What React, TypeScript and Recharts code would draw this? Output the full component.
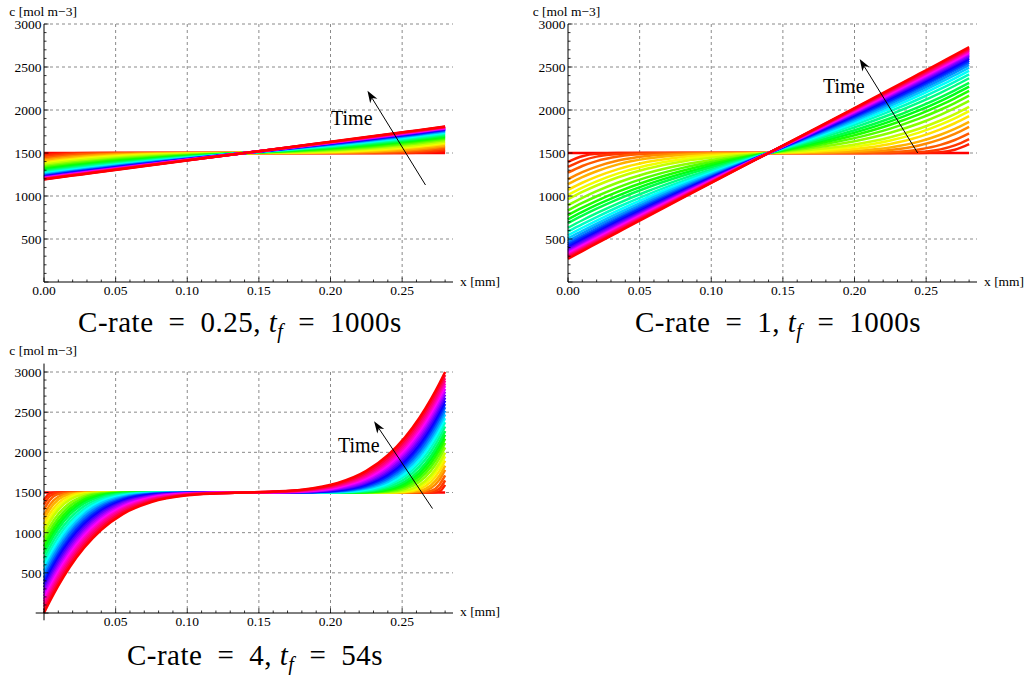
import React from 'react';
import { LineChart, Line, XAxis, YAxis, CartesianGrid, ReferenceLine } from 'recharts';

const FONT = '"Liberation Serif", "Times New Roman", serif';

// time of each curve as a fraction of t_f (t = 0 first, t = t_f last)
const curveTimes = [0, 0.004, 0.01, 0.02, 0.035, 0.05, 0.07, 0.09, 0.11, 0.14, 0.17, 0.2, 0.23, 0.26, 0.3, 0.34, 0.38, 0.42, 0.46, 0.5, 0.54, 0.58, 0.62, 0.66, 0.7, 0.74, 0.78, 0.82, 0.86, 0.9, 0.95, 1];

// x positions [mm] of the sampled profiles
const xGridAB = [0, 0.01, 0.02, 0.035, 0.055, 0.08, 0.11, 0.14, 0.17, 0.2, 0.225, 0.245, 0.26, 0.27, 0.28];
const xGridC = [0, 0.004, 0.01, 0.018, 0.028, 0.04, 0.055, 0.075, 0.1, 0.12, 0.14, 0.16, 0.18, 0.205, 0.225, 0.24, 0.252, 0.262, 0.27, 0.276, 0.28];

// C-rate = 0.25, t_f = 1000s
const profilesA = [
  [1500, 1500, 1500, 1500, 1500, 1500, 1500, 1500, 1500, 1500, 1500, 1500, 1500, 1500, 1500],
  [1475, 1491, 1498, 1500, 1500, 1500, 1500, 1500, 1500, 1500, 1500, 1500, 1502, 1509, 1525],
  [1460, 1478, 1490, 1497, 1500, 1500, 1500, 1500, 1500, 1500, 1500, 1503, 1510, 1522, 1540],
  [1443, 1462, 1477, 1490, 1498, 1500, 1500, 1500, 1500, 1500, 1502, 1510, 1523, 1538, 1557],
  [1424, 1445, 1461, 1478, 1491, 1498, 1500, 1500, 1500, 1502, 1509, 1522, 1539, 1555, 1576],
  [1410, 1430, 1447, 1467, 1484, 1494, 1499, 1500, 1501, 1506, 1516, 1533, 1553, 1570, 1590],
  [1393, 1414, 1431, 1453, 1474, 1489, 1496, 1500, 1504, 1511, 1526, 1547, 1569, 1586, 1607],
  [1379, 1400, 1418, 1441, 1464, 1482, 1494, 1500, 1506, 1518, 1536, 1559, 1582, 1600, 1621],
  [1366, 1387, 1406, 1430, 1454, 1476, 1491, 1500, 1509, 1524, 1546, 1570, 1594, 1613, 1634],
  [1349, 1370, 1389, 1414, 1441, 1466, 1486, 1500, 1514, 1534, 1559, 1586, 1611, 1630, 1651],
  [1333, 1355, 1374, 1400, 1429, 1457, 1481, 1500, 1519, 1543, 1571, 1600, 1626, 1645, 1667],
  [1320, 1341, 1361, 1388, 1418, 1449, 1477, 1500, 1523, 1551, 1582, 1612, 1639, 1659, 1680],
  [1307, 1329, 1349, 1376, 1408, 1441, 1473, 1500, 1527, 1559, 1592, 1624, 1651, 1671, 1693],
  [1296, 1318, 1338, 1366, 1399, 1434, 1469, 1500, 1531, 1566, 1601, 1634, 1662, 1682, 1704],
  [1283, 1305, 1325, 1354, 1388, 1426, 1465, 1500, 1535, 1574, 1612, 1646, 1675, 1695, 1717],
  [1271, 1293, 1314, 1343, 1379, 1418, 1461, 1500, 1539, 1582, 1621, 1657, 1686, 1707, 1729],
  [1261, 1283, 1304, 1334, 1370, 1412, 1457, 1500, 1543, 1588, 1630, 1666, 1696, 1717, 1739],
  [1252, 1274, 1295, 1325, 1363, 1406, 1454, 1500, 1546, 1594, 1637, 1675, 1705, 1726, 1748],
  [1244, 1266, 1288, 1318, 1357, 1402, 1452, 1500, 1548, 1598, 1643, 1682, 1712, 1734, 1756],
  [1237, 1259, 1281, 1312, 1351, 1397, 1450, 1500, 1550, 1603, 1649, 1688, 1719, 1741, 1763],
  [1231, 1253, 1275, 1306, 1346, 1393, 1448, 1500, 1552, 1607, 1654, 1694, 1725, 1747, 1769],
  [1226, 1248, 1270, 1301, 1342, 1390, 1446, 1500, 1554, 1610, 1658, 1699, 1730, 1752, 1774],
  [1221, 1243, 1265, 1297, 1338, 1387, 1444, 1500, 1556, 1613, 1662, 1703, 1735, 1757, 1779],
  [1217, 1239, 1261, 1293, 1334, 1385, 1443, 1500, 1557, 1615, 1666, 1707, 1739, 1761, 1783],
  [1214, 1236, 1258, 1290, 1332, 1382, 1442, 1500, 1558, 1618, 1668, 1710, 1742, 1764, 1786],
  [1210, 1233, 1254, 1287, 1329, 1380, 1441, 1500, 1559, 1620, 1671, 1713, 1746, 1767, 1790],
  [1208, 1230, 1252, 1284, 1327, 1379, 1440, 1500, 1560, 1621, 1673, 1716, 1748, 1770, 1792],
  [1204, 1227, 1249, 1281, 1324, 1377, 1439, 1500, 1561, 1623, 1676, 1719, 1751, 1773, 1796],
  [1202, 1224, 1246, 1279, 1322, 1375, 1438, 1500, 1562, 1625, 1678, 1721, 1754, 1776, 1798],
  [1199, 1221, 1243, 1276, 1320, 1373, 1437, 1500, 1563, 1627, 1680, 1724, 1757, 1779, 1801],
  [1196, 1218, 1240, 1273, 1317, 1371, 1436, 1500, 1564, 1629, 1683, 1727, 1760, 1782, 1804],
  [1193, 1215, 1237, 1270, 1315, 1369, 1435, 1500, 1565, 1631, 1685, 1730, 1763, 1785, 1807],
];

// C-rate = 1, t_f = 1000s
const profilesB = [
  [1500, 1500, 1500, 1500, 1500, 1500, 1500, 1500, 1500, 1500, 1500, 1500, 1500, 1500, 1500],
  [1398, 1463, 1490, 1499, 1500, 1500, 1500, 1500, 1500, 1500, 1500, 1501, 1510, 1537, 1602],
  [1338, 1412, 1458, 1489, 1499, 1500, 1500, 1500, 1500, 1500, 1501, 1511, 1542, 1588, 1662],
  [1271, 1349, 1406, 1459, 1490, 1499, 1500, 1500, 1500, 1501, 1510, 1541, 1594, 1651, 1729],
  [1197, 1278, 1342, 1412, 1465, 1491, 1499, 1500, 1501, 1509, 1535, 1588, 1658, 1722, 1803],
  [1138, 1220, 1288, 1368, 1435, 1477, 1495, 1500, 1505, 1523, 1565, 1632, 1712, 1780, 1862],
  [1071, 1154, 1225, 1313, 1395, 1454, 1485, 1500, 1515, 1546, 1605, 1687, 1775, 1846, 1929],
  [1014, 1098, 1171, 1263, 1355, 1428, 1475, 1500, 1525, 1572, 1645, 1737, 1829, 1902, 1986],
  [963, 1047, 1122, 1218, 1317, 1402, 1462, 1500, 1538, 1598, 1683, 1782, 1878, 1953, 2037],
  [894, 979, 1056, 1157, 1264, 1363, 1443, 1500, 1557, 1637, 1736, 1843, 1944, 2021, 2106],
  [833, 919, 997, 1101, 1216, 1327, 1424, 1500, 1576, 1673, 1784, 1899, 2003, 2081, 2167],
  [778, 864, 944, 1051, 1172, 1294, 1407, 1500, 1593, 1706, 1828, 1949, 2056, 2136, 2222],
  [729, 815, 896, 1005, 1132, 1263, 1390, 1500, 1610, 1737, 1868, 1995, 2104, 2185, 2271],
  [685, 771, 852, 964, 1096, 1235, 1376, 1500, 1624, 1765, 1904, 2036, 2148, 2229, 2315],
  [631, 718, 800, 915, 1052, 1202, 1358, 1500, 1642, 1798, 1948, 2085, 2200, 2282, 2369],
  [585, 672, 755, 872, 1014, 1173, 1343, 1500, 1657, 1827, 1986, 2128, 2245, 2328, 2415],
  [544, 631, 715, 834, 981, 1148, 1329, 1500, 1671, 1852, 2019, 2166, 2285, 2369, 2456],
  [508, 596, 680, 801, 952, 1125, 1317, 1500, 1683, 1875, 2048, 2199, 2320, 2404, 2492],
  [477, 565, 650, 772, 926, 1106, 1307, 1500, 1693, 1894, 2074, 2228, 2350, 2435, 2523],
  [449, 537, 622, 746, 903, 1088, 1298, 1500, 1702, 1912, 2097, 2254, 2378, 2463, 2551],
  [425, 513, 599, 724, 884, 1073, 1290, 1500, 1710, 1927, 2116, 2276, 2401, 2487, 2575],
  [403, 492, 578, 704, 866, 1060, 1283, 1500, 1717, 1940, 2134, 2296, 2422, 2508, 2597],
  [385, 473, 560, 687, 851, 1048, 1277, 1500, 1723, 1952, 2149, 2313, 2440, 2527, 2615],
  [368, 457, 544, 672, 837, 1038, 1271, 1500, 1729, 1962, 2163, 2328, 2456, 2543, 2632],
  [354, 442, 530, 658, 826, 1029, 1266, 1500, 1734, 1971, 2174, 2342, 2470, 2558, 2646],
  [341, 430, 517, 647, 815, 1021, 1262, 1500, 1738, 1979, 2185, 2353, 2483, 2570, 2659],
  [330, 419, 506, 636, 806, 1014, 1259, 1500, 1741, 1986, 2194, 2364, 2494, 2581, 2670],
  [317, 406, 494, 624, 796, 1006, 1254, 1500, 1746, 1994, 2204, 2376, 2506, 2594, 2683],
  [306, 395, 483, 614, 787, 999, 1251, 1500, 1749, 2001, 2213, 2386, 2517, 2605, 2694],
  [296, 385, 473, 605, 778, 993, 1247, 1500, 1753, 2007, 2222, 2395, 2527, 2615, 2704],
  [283, 373, 461, 593, 768, 985, 1243, 1500, 1757, 2015, 2232, 2407, 2539, 2627, 2717],
  [270, 360, 448, 581, 758, 977, 1239, 1500, 1761, 2023, 2242, 2419, 2552, 2640, 2730],
];

// C-rate = 4, t_f = 54s
const profilesC = [
  [1500, 1500, 1500, 1500, 1500, 1500, 1500, 1500, 1500, 1500, 1500, 1500, 1500, 1500, 1500, 1500, 1500, 1500, 1500, 1500, 1500],
  [1405, 1488, 1500, 1500, 1500, 1500, 1500, 1500, 1500, 1500, 1500, 1500, 1500, 1500, 1500, 1500, 1500, 1500, 1500, 1512, 1595],
  [1350, 1454, 1497, 1500, 1500, 1500, 1500, 1500, 1500, 1500, 1500, 1500, 1500, 1500, 1500, 1500, 1500, 1500, 1503, 1546, 1650],
  [1288, 1404, 1480, 1499, 1500, 1500, 1500, 1500, 1500, 1500, 1500, 1500, 1500, 1500, 1500, 1500, 1500, 1501, 1520, 1596, 1712],
  [1219, 1343, 1447, 1492, 1500, 1500, 1500, 1500, 1500, 1500, 1500, 1500, 1500, 1500, 1500, 1500, 1500, 1508, 1553, 1657, 1781],
  [1165, 1292, 1412, 1479, 1498, 1500, 1500, 1500, 1500, 1500, 1500, 1500, 1500, 1500, 1500, 1500, 1502, 1521, 1588, 1708, 1835],
  [1103, 1233, 1368, 1458, 1493, 1500, 1500, 1500, 1500, 1500, 1500, 1500, 1500, 1500, 1500, 1500, 1507, 1542, 1632, 1767, 1897],
  [1050, 1182, 1326, 1434, 1485, 1498, 1500, 1500, 1500, 1500, 1500, 1500, 1500, 1500, 1500, 1502, 1515, 1566, 1674, 1818, 1950],
  [1003, 1136, 1287, 1409, 1475, 1496, 1500, 1500, 1500, 1500, 1500, 1500, 1500, 1500, 1500, 1504, 1525, 1591, 1713, 1864, 1997],
  [939, 1074, 1232, 1370, 1455, 1491, 1499, 1500, 1500, 1500, 1500, 1500, 1500, 1500, 1501, 1509, 1545, 1630, 1768, 1926, 2061],
  [882, 1018, 1182, 1332, 1434, 1483, 1498, 1500, 1500, 1500, 1500, 1500, 1500, 1500, 1502, 1517, 1566, 1668, 1818, 1982, 2118],
  [829, 966, 1135, 1294, 1411, 1473, 1496, 1500, 1500, 1500, 1500, 1500, 1500, 1500, 1504, 1527, 1589, 1706, 1865, 2034, 2171],
  [781, 918, 1090, 1258, 1387, 1461, 1493, 1500, 1500, 1500, 1500, 1500, 1500, 1500, 1507, 1539, 1613, 1742, 1910, 2082, 2219],
  [735, 874, 1048, 1223, 1363, 1449, 1488, 1499, 1500, 1500, 1500, 1500, 1500, 1501, 1512, 1551, 1637, 1777, 1952, 2126, 2265],
  [678, 818, 995, 1177, 1330, 1430, 1481, 1498, 1500, 1500, 1500, 1500, 1500, 1502, 1519, 1570, 1670, 1823, 2005, 2182, 2322],
  [625, 765, 945, 1134, 1296, 1410, 1473, 1496, 1500, 1500, 1500, 1500, 1500, 1504, 1527, 1590, 1704, 1866, 2055, 2235, 2375],
  [575, 715, 898, 1092, 1264, 1389, 1462, 1494, 1500, 1500, 1500, 1500, 1500, 1506, 1538, 1611, 1736, 1908, 2102, 2285, 2425],
  [528, 668, 852, 1051, 1231, 1367, 1451, 1490, 1499, 1500, 1500, 1500, 1501, 1510, 1549, 1633, 1769, 1949, 2148, 2332, 2472],
  [483, 623, 809, 1012, 1199, 1344, 1439, 1486, 1499, 1500, 1500, 1500, 1501, 1514, 1561, 1656, 1801, 1988, 2191, 2377, 2517],
  [439, 580, 768, 978, 1168, 1321, 1426, 1482, 1498, 1500, 1500, 1500, 1502, 1518, 1574, 1679, 1832, 2022, 2232, 2420, 2561],
  [398, 538, 727, 937, 1136, 1298, 1413, 1477, 1497, 1499, 1500, 1501, 1503, 1523, 1587, 1702, 1864, 2063, 2273, 2462, 2602],
  [358, 499, 689, 901, 1106, 1275, 1399, 1471, 1495, 1499, 1500, 1501, 1505, 1529, 1601, 1725, 1894, 2099, 2311, 2501, 2642],
  [319, 460, 651, 866, 1076, 1252, 1384, 1464, 1494, 1499, 1500, 1501, 1506, 1536, 1616, 1748, 1924, 2134, 2349, 2540, 2681],
  [281, 423, 615, 832, 1046, 1229, 1369, 1458, 1492, 1498, 1500, 1502, 1508, 1542, 1631, 1771, 1954, 2168, 2385, 2577, 2719],
  [245, 387, 579, 799, 1017, 1206, 1354, 1450, 1490, 1498, 1500, 1502, 1510, 1550, 1646, 1794, 1983, 2201, 2421, 2613, 2755],
  [210, 351, 545, 766, 988, 1183, 1338, 1442, 1488, 1497, 1500, 1503, 1512, 1558, 1662, 1817, 2012, 2234, 2455, 2649, 2790],
  [175, 317, 512, 735, 960, 1160, 1322, 1434, 1485, 1496, 1500, 1504, 1515, 1566, 1678, 1840, 2040, 2265, 2488, 2683, 2825],
  [142, 284, 479, 703, 932, 1137, 1306, 1425, 1482, 1495, 1500, 1505, 1518, 1575, 1694, 1863, 2068, 2297, 2521, 2716, 2858],
  [109, 251, 447, 673, 905, 1115, 1289, 1416, 1479, 1494, 1500, 1506, 1521, 1584, 1711, 1885, 2095, 2327, 2553, 2749, 2891],
  [77, 219, 416, 643, 878, 1092, 1273, 1407, 1475, 1492, 1500, 1508, 1525, 1593, 1727, 1908, 2122, 2357, 2584, 2781, 2923],
  [38, 181, 377, 607, 845, 1064, 1252, 1394, 1470, 1491, 1500, 1509, 1530, 1606, 1748, 1936, 2155, 2393, 2623, 2819, 2962],
  [0, 143, 340, 572, 812, 1036, 1231, 1382, 1465, 1488, 1500, 1512, 1535, 1618, 1769, 1964, 2188, 2428, 2660, 2857, 3000],
];

// axis ticks (majors every 0.05 / 500, minors every 0.01 / 100)
const xTicks = [0, 0.01, 0.02, 0.03, 0.04, 0.05, 0.06, 0.07, 0.08, 0.09, 0.1, 0.11, 0.12, 0.13, 0.14, 0.15, 0.16, 0.17, 0.18, 0.19, 0.2, 0.21, 0.22, 0.23, 0.24, 0.25, 0.26, 0.27, 0.28];
const yTicks = [0, 100, 200, 300, 400, 500, 600, 700, 800, 900, 1000, 1100, 1200, 1300, 1400, 1500, 1600, 1700, 1800, 1900, 2000, 2100, 2200, 2300, 2400, 2500, 2600, 2700, 2800, 2900, 3000];
const xGridValues = [0.05, 0.1, 0.15, 0.2, 0.25];
const yGridValues = [500, 1000, 1500, 2000, 2500, 3000];

// "Time" arrows: [tail, head] in data units
const arrowA = [{ x: 0.2663, y: 1128 }, { x: 0.2258, y: 2224 }];
const arrowB = [{ x: 0.2441, y: 1500 }, { x: 0.2036, y: 2593 }];
const arrowC = [{ x: 0.2712, y: 1300 }, { x: 0.2304, y: 2387 }];

const X_DOMAIN: [number, number] = [0, 0.2855];
const Y_DOMAIN: [number, number] = [0, 3000];

function hueColor(r: number) {
  return `hsl(${(Math.pow(r, 0.72) * 360).toFixed(1)}, 100%, 50%)`;
}

function buildRows(xs: number[], curves: number[][]) {
  return xs.map((x, i) => {
    const row: Record<string, number> = { x };
    curves.forEach((c, j) => {
      row['c' + j] = c[i];
    });
    return row;
  });
}

const XTick = (props: any) => {
  const { x, y, payload, hideZero } = props;
  const v = payload.value as number;
  const k = Math.round(v * 100);
  const major = k % 5 === 0;
  return (
    <g>
      <line x1={x} x2={x} y1={y} y2={y - (major ? 4.5 : 2.5)} stroke="#000" strokeWidth={0.8} />
      {major && !(hideZero && k === 0) ? (
        <text x={x} y={y + 13} textAnchor="middle" fontSize={13.5} fontFamily={FONT} fill="#000">
          {v.toFixed(2)}
        </text>
      ) : null}
    </g>
  );
};

const YTick = (props: any) => {
  const { x, y, payload } = props;
  const v = payload.value as number;
  const major = v % 500 === 0;
  return (
    <g>
      <line x1={x} x2={x + (major ? 4.5 : 2.5)} y1={y} y2={y} stroke="#000" strokeWidth={0.8} />
      {major && v > 0 ? (
        <text x={x - 2.5} y={y} dy="0.36em" textAnchor="end" fontSize={13.5} fontFamily={FONT} fill="#000">
          {v}
        </text>
      ) : null}
    </g>
  );
};

const ArrowShape = (props: any) => {
  const { x1, y1, x2, y2 } = props;
  const dx = x2 - x1;
  const dy = y2 - y1;
  const len = Math.sqrt(dx * dx + dy * dy) || 1;
  const ux = dx / len;
  const uy = dy / len;
  const nx = -uy;
  const ny = ux;
  const L = 12;
  const W = 4.2;
  const bx = x2 - ux * L;
  const by = y2 - uy * L;
  const mx = x2 - ux * L * 0.72;
  const my = y2 - uy * L * 0.72;
  const pts = `${x2},${y2} ${bx + nx * W},${by + ny * W} ${mx},${my} ${bx - nx * W},${by - ny * W}`;
  return (
    <g>
      <line x1={x1} y1={y1} x2={mx} y2={my} stroke="#000" strokeWidth={1} />
      <polygon points={pts} fill="#000" />
    </g>
  );
};

type PanelProps = {
  left: number;
  top: number;
  width: number;
  height: number;
  margin: { top: number; right: number; bottom: number; left: number };
  yAxisWidth: number;
  xAxisHeight: number;
  xs: number[];
  curves: number[][];
  arrow: { x: number; y: number }[];
  hideZero?: boolean;
  extendAxes?: boolean;
};

function Panel({ left, top, width, height, margin, yAxisWidth, xAxisHeight, xs, curves, arrow, hideZero, extendAxes }: PanelProps) {
  const rows = buildRows(xs, curves);
  return (
    <div style={{ position: 'absolute', left, top }}>
      <LineChart width={width} height={height} data={rows} margin={margin}>
        <CartesianGrid
          horizontalValues={yGridValues}
          verticalValues={xGridValues}
          stroke="#8a8a8a"
          strokeDasharray="3 3"
          fill="none"
        />
        <XAxis
          type="number"
          dataKey="x"
          domain={X_DOMAIN}
          ticks={xTicks}
          interval={0}
          height={xAxisHeight}
          tickSize={0}
          tickMargin={0}
          tickLine={false}
          axisLine={{ stroke: '#000', strokeWidth: 1 }}
          tick={(p: any) => <XTick {...p} hideZero={hideZero} />}
        />
        <YAxis
          type="number"
          domain={Y_DOMAIN}
          ticks={yTicks}
          interval={0}
          width={yAxisWidth}
          tickSize={0}
          tickMargin={0}
          tickLine={false}
          axisLine={{ stroke: '#000', strokeWidth: 1 }}
          tick={(p: any) => <YTick {...p} />}
        />
        {curves.map((_, j) => (
          <Line
            key={j}
            dataKey={'c' + j}
            type="monotone"
            stroke={hueColor(curveTimes[j])}
            strokeWidth={2.5}
            dot={false}
            activeDot={false}
            isAnimationActive={false}
          />
        ))}
        {extendAxes ? (
          <ReferenceLine segment={[{ x: 0, y: 3000 }, { x: 0, y: 3105 }]} stroke="#000" strokeWidth={1} ifOverflow="visible" />
        ) : null}
        {extendAxes ? (
          <ReferenceLine segment={[{ x: 0, y: -91 }, { x: 0, y: 0 }]} stroke="#000" strokeWidth={1} ifOverflow="visible" />
        ) : null}
        {extendAxes ? (
          <ReferenceLine segment={[{ x: -0.0058, y: 0 }, { x: 0, y: 0 }]} stroke="#000" strokeWidth={1} ifOverflow="visible" />
        ) : null}
        <ReferenceLine segment={arrow} ifOverflow="visible" shape={ArrowShape} />
      </LineChart>
    </div>
  );
}

const EQ = '\u2002=\u2002';

function Caption({ x, y, rate, tf }: { x: number; y: number; rate: string; tf: string }) {
  return (
    <text x={x} y={y} textAnchor="middle" fontSize={29} fontFamily={FONT} letterSpacing={0.5} fill="#000">
      {'C-rate' + EQ + rate + ', '}
      <tspan fontStyle="italic">t</tspan>
      <tspan fontStyle="italic" fontSize={20} dy={6}>
        f
      </tspan>
      <tspan dy={-6}>{EQ + tf}</tspan>
    </text>
  );
}

export default function App() {
  const smallText = { fontSize: 13.5, fontFamily: FONT, fill: '#000' } as const;
  return (
    <div style={{ position: 'absolute', left: 0, top: 0, width: 1025, height: 675, background: '#fff', overflow: 'hidden' }}>
      <Panel
        left={0}
        top={0}
        width={470}
        height={300}
        margin={{ top: 24, right: 17, bottom: 0, left: 0 }}
        yAxisWidth={44}
        xAxisHeight={18}
        xs={xGridAB}
        curves={profilesA}
        arrow={arrowA}
      />
      <Panel
        left={520}
        top={0}
        width={505}
        height={300}
        margin={{ top: 24, right: 48, bottom: 0, left: 0 }}
        yAxisWidth={48}
        xAxisHeight={18}
        xs={xGridAB}
        curves={profilesB}
        arrow={arrowB}
      />
      <Panel
        left={0}
        top={340}
        width={470}
        height={300}
        margin={{ top: 32, right: 17, bottom: 0, left: 0 }}
        yAxisWidth={44}
        xAxisHeight={27}
        xs={xGridC}
        curves={profilesC}
        arrow={arrowC}
        hideZero
        extendAxes
      />
      <svg width={1025} height={675} style={{ position: 'absolute', left: 0, top: 0, pointerEvents: 'none' }}>
        <text x={9.3} y={15.5} {...smallText}>c [mol m−3]</text>
        <text x={532.7} y={15.5} {...smallText}>c [mol m−3]</text>
        <text x={9.3} y={355} {...smallText}>c [mol m−3]</text>
        <text x={460} y={286} {...smallText}>x [mm]</text>
        <text x={984} y={286} {...smallText}>x [mm]</text>
        <text x={460} y={616} {...smallText}>x [mm]</text>
        <text x={331} y={125} fontSize={20} fontFamily={FONT} fill="#000">Time</text>
        <text x={823} y={92.5} fontSize={20} fontFamily={FONT} fill="#000">Time</text>
        <text x={338} y={451.5} fontSize={20} fontFamily={FONT} fill="#000">Time</text>
        <Caption x={240} y={332} rate="0.25" tf="1000s" />
        <Caption x={778} y={332} rate="1" tf="1000s" />
        <Caption x={255} y={665} rate="4" tf="54s" />
      </svg>
    </div>
  );
}
